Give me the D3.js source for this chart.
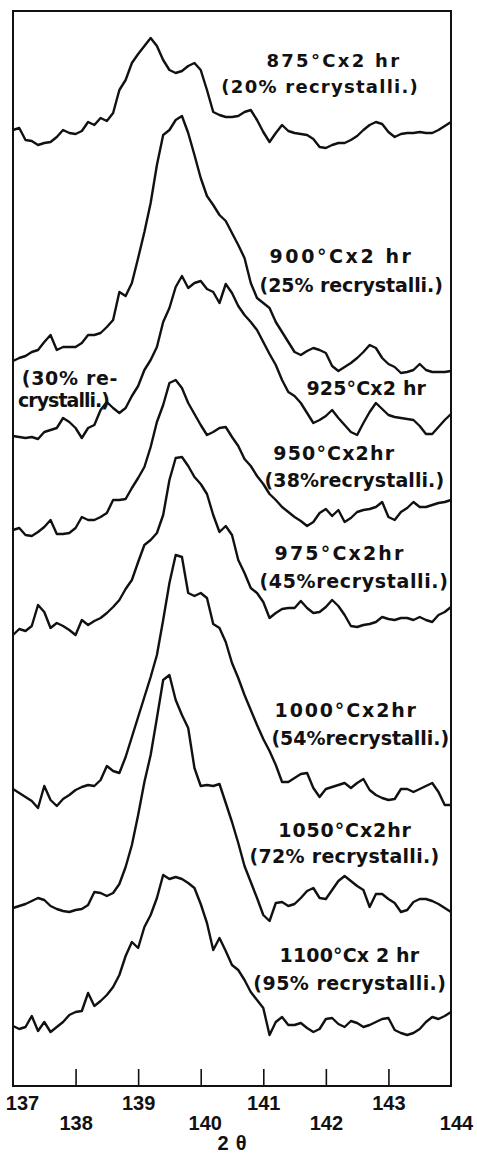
<!DOCTYPE html>
<html><head><meta charset="utf-8">
<script src="https://cdn.jsdelivr.net/npm/d3@7"></script>
<style>body{margin:0;background:#fff}</style>
</head><body>
<svg id="c" width="477" height="1155"></svg>
<script>
// ---------- data ----------
const thetaStart = 137, thetaStep = 0.1, nPoints = 71;
const tickValues = [137, 138, 139, 140, 141, 142, 143, 144];
const axisTitle = "2θ";
const seriesNames = ["875°C", "900°C", "925°C", "950°C", "975°C", "1000°C", "1050°C", "1100°C"];
// stacking offset of each profile (a.u.)
const offsets = [946, 726, 651, 556, 451, 296, 179, 61];
// intensity above each profile's background (a.u.), 137.0 → 144.0 step 0.1
const s875 = [10,12,0,-1,-5,-3,-2,3,10,7, 6,9,18,15,22,19,27,50,60,77, 86,94,102,94,80,70,67,69,74,77, 70,50,28,25,23,23,24,28,30,20, 8,-2,7,15,9,7,6,5,1,-7, -8,-5,-3,-3,0,4,10,15,18,16, 8,3,6,7,7,8,7,7,10,14, 18];
const s900 = [-1,2,4,8,10,18,25,10,13,13, 13,17,25,25,27,33,40,68,64,77, 102,128,157,195,225,230,240,244,227,205, 182,164,155,145,139,127,115,102,77,62, 57,52,38,28,18,8,5,9,12,10, 7,-6,-11,-7,-3,2,8,15,12,2, -4,-7,-13,-12,-10,-4,-10,-12,-12,-12, -11];
const s925 = [-1,-2,-3,-2,-4,3,5,7,17,13, 7,-3,7,10,25,33,27,22,27,39, 49,65,75,88,113,127,148,159,147,152, 154,146,143,132,151,142,129,120,113,105, 93,81,70,55,43,39,32,22,12,15, 19,25,17,10,3,0,12,23,32,26, 20,18,17,16,15,9,1,1,8,15, 21];
const s950 = [0,2,-5,-6,-2,3,10,-4,-4,-3, 2,13,10,10,13,17,30,30,31,42, 52,63,83,108,125,147,150,142,127,116, 105,95,98,102,103,93,84,71,64,54, 46,36,30,23,18,13,9,4,8,17, 21,14,20,8,12,18,20,21,23,28, 13,10,18,22,28,23,23,25,27,28, 30];
const s975 = [0,6,4,9,30,23,7,12,9,5, 0,15,10,14,17,22,28,35,46,55, 73,90,95,102,120,155,177,178,169,158, 151,141,120,103,109,100,75,62,47,42, 33,17,22,26,27,27,34,27,22,23, 28,35,29,20,9,8,10,11,13,18, 16,15,17,17,15,18,15,13,20,23, 28];
const s1000 = [1,-3,-7,-11,-18,4,-10,-16,-9,-5, 0,3,5,4,10,24,19,17,33,53, 73,93,113,135,170,207,235,233,197,194, 197,192,166,162,148,127,112,95,80,65, 51,39,25,8,8,12,16,17,2,-7, 1,3,5,7,2,7,11,0,-5,-8, -10,-9,1,1,-2,1,4,7,-2,-15, -15];
const s1050 = [-1,1,3,6,9,7,1,-2,-4,-5, -3,-2,2,15,14,11,14,23,40,62, 92,125,152,189,227,232,207,192,179,139, 121,122,121,123,104,85,64,41,25,9, -8,-14,4,5,1,3,9,16,19,9, 8,17,26,31,26,21,17,0,13,13, 8,4,-5,-3,5,8,8,6,3,-1, -5];
const s1100 = [-1,-4,-2,9,-6,3,-7,-2,3,10, 13,14,32,19,24,30,38,50,69,83, 77,98,110,127,150,146,148,146,142,137, 121,102,75,87,74,60,55,45,33,25, 17,-10,3,8,0,0,2,-3,-7,-4, 6,7,1,-2,4,2,-2,0,3,6, 7,-5,-8,-10,-8,-4,3,8,6,9, 13];
const seriesValues = [s875, s900, s925, s950, s975, s1000, s1050, s1100];

// annotation texts
const annoText = ["875°Cx2 hr", "(20% recrystalli.)", "900°Cx2 hr", "(25% recrystalli.)",
  "(30% re-", "crystalli.)", "925°Cx2 hr", "950°Cx2hr", "(38%recrystalli.)",
  "975°Cx2hr", "(45%recrystalli.)", "1000°Cx2hr", "(54%recrystalli.)",
  "1050°Cx2hr", "(72% recrystalli.)", "1100°Cx 2 hr", "(95% recrystalli.)"];

// ---------- layout ----------
const W = 477, H = 1155;
const x = d3.scaleLinear().domain([137, 144]).range([13, 451]);
const y = d3.scaleLinear().domain([0, 1075]).range([1086, 11]);
// annotation placement: [theta start, theta end, a.u. baseline, font size]
const annoLayout = [
  [141.05, 143.17, 1019, 18], [140.33, 143.47, 993, 18],
  [141.10, 143.36, 823, 19], [140.94, 143.87, 794, 19],
  [137.14, 138.67, 701, 19], [137.08, 138.55, 679, 19], [141.69, 143.60, 691, 19],
  [141.16, 143.09, 626, 19], [141.02, 143.89, 599, 19],
  [141.18, 143.24, 526, 19], [140.94, 143.95, 498, 19],
  [141.18, 143.44, 369, 19], [141.13, 143.97, 341, 19],
  [141.24, 143.36, 249, 19], [140.78, 143.81, 223, 19],
  [141.26, 143.49, 124, 19], [140.84, 143.92, 96, 19]
];

const svg = d3.select("#c");
svg.append("rect").attr("width", W).attr("height", H).attr("fill", "#fff");

// frame
svg.append("rect")
  .attr("x", x(137)).attr("y", y(1075))
  .attr("width", x(144) - x(137)).attr("height", y(0) - y(1075))
  .attr("fill", "none").attr("stroke", "#111").attr("stroke-width", 2);

// axis
const ax = svg.append("g").attr("transform", `translate(0,${y(0)})`)
  .call(d3.axisBottom(x).tickValues(tickValues).tickSizeInner(-17).tickSizeOuter(0).tickFormat(d3.format("d")));
ax.select(".domain").remove();
ax.selectAll(".tick line").attr("stroke", "#111").attr("stroke-width", 1.6)
  .attr("opacity", d => (d === 137 || d === 144) ? 0 : 1);
ax.selectAll(".tick text")
  .attr("fill", "#111")
  .attr("font-family", "'Liberation Sans', Arial, sans-serif")
  .attr("font-weight", "bold").attr("font-size", 20)
  .attr("dy", 0)
  .attr("y", d => (d % 2 === 1) ? 24 : 44)
  .attr("dx", d => d === 137 ? 9 : (d === 144 ? 5 : (d === 140 ? 4 : 0)));

svg.append("text").text(axisTitle)
  .attr("x", x(140.5)).attr("y", y(0) + 64)
  .attr("text-anchor", "middle")
  .attr("font-family", "'Liberation Sans', Arial, sans-serif")
  .attr("font-weight", "bold").attr("font-size", 20)
  .attr("textLength", 29).attr("lengthAdjust", "spacing").attr("fill", "#111");

// profiles
const theta = d3.range(nPoints).map(i => thetaStart + i * thetaStep);
const line = d3.line().x(d => x(d[0])).y(d => y(d[1]));
seriesValues.forEach((vals, k) => {
  const pts = vals.map((v, i) => [theta[i], v + offsets[k]]);
  svg.append("path").datum(pts)
    .attr("d", line)
    .attr("fill", "none").attr("stroke", "#111")
    .attr("stroke-width", 2.4).attr("stroke-linejoin", "round")
    .attr("data-series", seriesNames[k]);
});

// annotations
annoText.forEach((t, i) => {
  const [t0, t1, yv, fs] = annoLayout[i];
  svg.append("text").text(t)
    .attr("x", x(t0)).attr("y", y(yv))
    .attr("font-family", "'DejaVu Sans', sans-serif")
    .attr("font-weight", "bold")
    .attr("font-size", fs).attr("fill", "#111")
    .attr("textLength", x(t1) - x(t0)).attr("lengthAdjust", "spacing");
});
</script>
</body></html>
